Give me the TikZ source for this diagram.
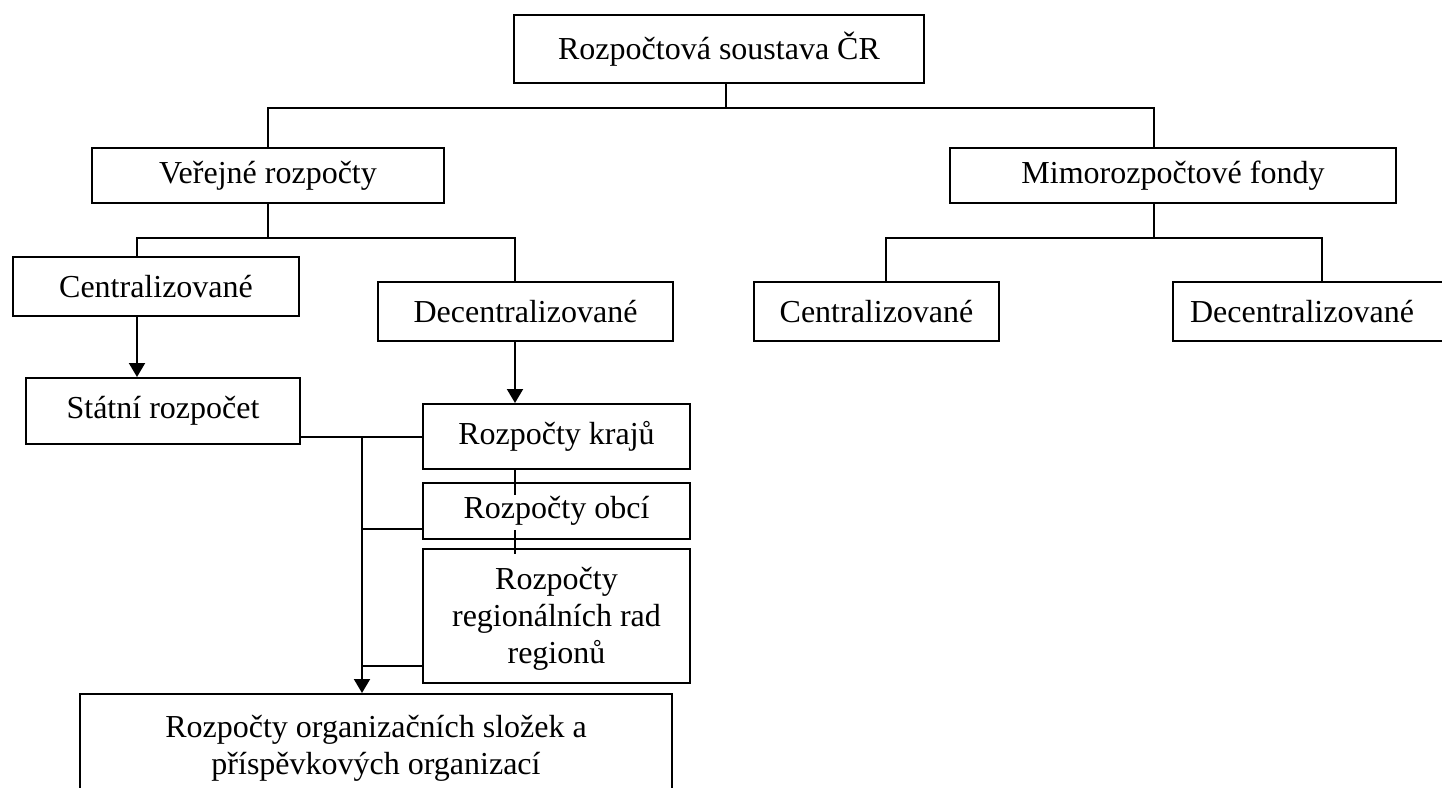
\documentclass[tikz,border=0pt]{standalone}
\usepackage{fontspec}
\setmainfont{Liberation Serif}
\usetikzlibrary{arrows.meta}
\tikzset{
  box/.style={draw, rectangle, inner sep=0pt, align=center, line width=2pt},
  conn/.style={line width=2pt},
  arr/.style={line width=2pt, -{Triangle[width=16pt,length=14pt]}}
}
\begin{document}
\begin{tikzpicture}[x=1pt, y=-1pt, font=\fontsize{32}{37}\selectfont]
\clip (0,0) rectangle (1442,787);
\fill[white] (0,0) rectangle (1442,787);

% nodes
\node[box, anchor=north west, minimum width=410pt, minimum height=68pt] (top) at (513,14) {Rozpočtová soustava ČR};
\node[box, anchor=north west, minimum width=352pt, minimum height=55pt] (ver) at (91,147) {Veřejné rozpočty};
\node[box, anchor=north west, minimum width=446pt, minimum height=55pt] (mimo) at (949,147) {Mimorozpočtové fondy};
\node[box, anchor=north west, minimum width=286pt, minimum height=59pt] (cl) at (12,256) {Centralizované};
\node[box, anchor=north west, minimum width=295pt, minimum height=59pt] (dl) at (377,281) {Decentralizované};
\node[box, anchor=north west, minimum width=245pt, minimum height=59pt] (cr) at (753,281) {Centralizované};
\node[box, anchor=north west, minimum width=300pt, minimum height=59pt] (dr) at (1172,281) {Decentralizované\hspace*{42pt}};
\node[box, anchor=north west, minimum width=274pt, minimum height=66pt] (st) at (25,377) {Státní rozpočet};
\node[box, anchor=north west, minimum width=267pt, minimum height=65pt] (kr) at (422,403) {Rozpočty krajů};
\node[box, anchor=north west, minimum width=267pt, minimum height=56pt] (ob) at (422,482) {Rozpočty obcí};
\node[box, anchor=north west, minimum width=267pt, minimum height=134pt] (rg) at (422,548) {\rule{0pt}{27pt}Rozpočty\\regionálních rad\\regionů};
\node[box, anchor=north, minimum width=592pt, minimum height=108pt] (bot) at (376,693) {Rozpočty organizačních složek a\\příspěvkových organizací};

% junction coordinates
\coordinate (b1) at ([xshift=7pt]top.south |- 0,108);
\coordinate (b2) at (ver.south |- 0,238);
\coordinate (b3) at ([xshift=-19pt]mimo.south |- 0,238);

% level 1
\draw[conn] ([xshift=7pt]top.south) -- (b1);
\draw[conn] (ver.north) |- (b1) -| ([xshift=-19pt]mimo.north);

% level 2 left
\draw[conn] (ver.south) -- (b2);
\draw[conn] ([xshift=-19pt]cl.north) |- (b2) -| ([xshift=-10.5pt]dl.north);

% level 2 right
\draw[conn] ([xshift=-19pt]mimo.south) -- (b3);
\draw[conn] ([xshift=9.5pt]cr.north) |- (b3) -| ([xshift=-1pt]dr.north);

% arrows down
\draw[arr] ([xshift=-19pt]cl.south) -- ([xshift=-19pt]cl.south |- st.north);
\draw[arr] ([xshift=-10.5pt]dl.south) -- ([xshift=-10.5pt]dl.south |- kr.north);

% state budget link and bus
\draw[conn] (st.east |- kr.west) -- (kr.west);
\path (kr.west) -- ++(-60,0) coordinate (j1);
\draw[arr] (j1) -- (j1 |- bot.north);
\draw[conn] ([yshift=-18pt]ob.west) -- ++(-60,0);
\draw[conn] ([yshift=-50pt]rg.west) -- ++(-60,0);

% short links between regional boxes
\draw[conn] ([xshift=-41.5pt]kr.south) -- ++(0,25);
\draw[conn] ([xshift=-41.5pt,yshift=10pt]ob.south) -- ([xshift=-41.5pt,yshift=-6pt]rg.north);
\end{tikzpicture}
\end{document}
